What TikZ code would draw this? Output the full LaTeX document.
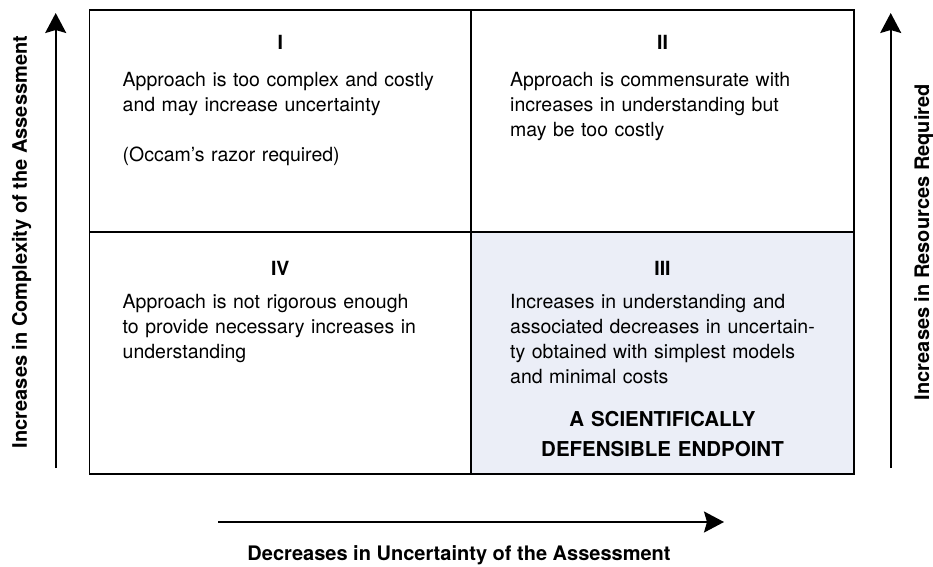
\documentclass[tikz,border=0pt]{standalone}
\usepackage{fontspec}
\setmainfont{TeX Gyre Heros}
\usepackage{tikz}
\usetikzlibrary{arrows.meta,positioning,calc}
\definecolor{paleblue}{HTML}{EBEEF7}

\begin{document}
\begin{tikzpicture}[
x=1pt, y=-1pt,
>={Stealth[length=20pt,width=21pt,inset=3pt]},
quad/.style = {draw=black,line width=1.8pt,inner sep=0pt,outer sep=0pt},
roman/.style = {font=\fontsize{19.5}{25}\selectfont\bfseries,anchor=base,inner sep=0pt},
body/.style = {font=\fontsize{19.5}{25}\selectfont,anchor=base west,align=left,inner sep=0pt,text width=345pt},
endpoint/.style = {font=\fontsize{20.5}{30}\selectfont\bfseries,anchor=base,align=center,inner sep=0pt,text width=330pt},
axis-label/.style = {font=\fontsize{20}{24}\selectfont\bfseries,anchor=base,inner sep=0pt},
axis/.style = {->,line width=1.8pt}
]
\useasboundingbox (0,0) rectangle (933,566);

% quadrants
\node [quad,fill=paleblue,minimum width=383pt,minimum height=242pt] (q3) at (662.5,353) {};
\node [quad,minimum width=381.5pt,minimum height=222pt] (q1) at (280.25,121) {};
\node [quad,minimum width=383pt,minimum height=222pt] (q2) at (662.5,121) {};
\node [quad,minimum width=381.5pt,minimum height=242pt] (q4) at (280.25,353) {};

% numbers
\node [roman] (n1) at (280.25,49) {I};
\node [roman] (n2) at (662.5,49) {II};
\node [roman] (n4) at (280.25,275.7) {IV};
\node [roman] (n3) at (662.5,275.7) {III};

% texts
\node [body] (b1) at (122.5,86.7) {Approach is too complex and costly\\and may increase uncertainty\\[25pt](Occam's razor required)};
\node [body] (b2) at (510,86.7) {Approach is commensurate with\\increases in understanding but\\may be too costly};
\node [body] (b4) at (122.5,308.3) {Approach is not rigorous enough\\to provide necessary increases in\\understanding};
\node [body] (b3) at (510,308.3) {Increases in understanding and\\associated decreases in uncertain-\\ty obtained with simplest models\\and minimal costs};
\node [endpoint] (ep) at (662.5,426.7) {A SCIENTIFICALLY\\DEFENSIBLE ENDPOINT};

% axes
\coordinate (left-foot) at (55.7,468);
\coordinate (left-head) at (55.7,13);
\coordinate (right-foot) at (890.7,468);
\coordinate (right-head) at (890.7,13);
\coordinate (low-foot) at (218,522);
\coordinate (low-head) at (724,522);
\draw [axis] (left-foot) -- (left-head);
\draw [axis] (right-foot) -- (right-head);
\draw [axis] (low-foot) -- (low-head);

% labels
\node [axis-label,rotate=90] (lab-left) at (27,242) {Increases in Complexity of the Assessment};
\node [axis-label,rotate=90] (lab-right) at (929,242) {Increases in Resources Required};
\node [axis-label] (lab-low) at (459,560) {Decreases in Uncertainty of the Assessment};

\end{tikzpicture}
\end{document}
